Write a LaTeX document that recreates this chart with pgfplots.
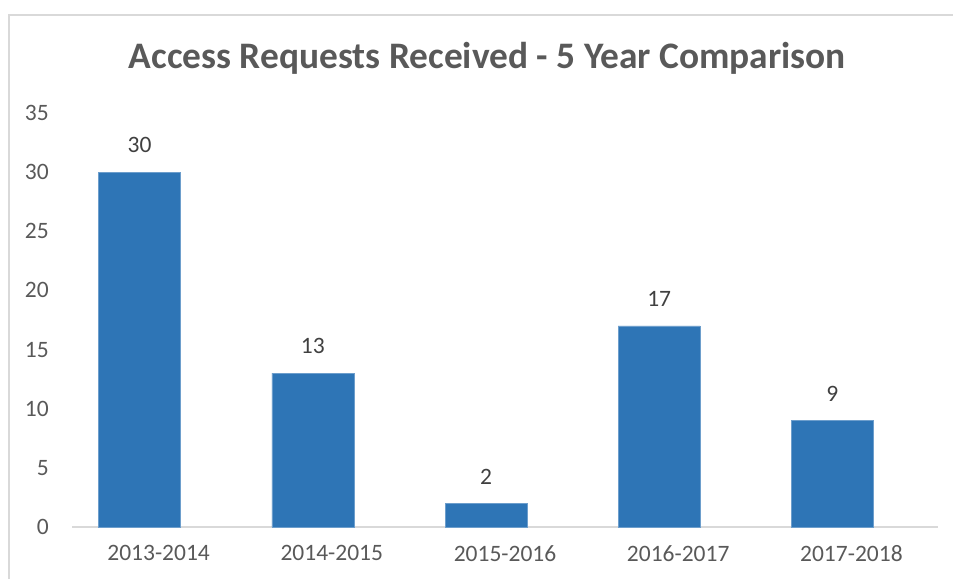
\documentclass[border=0pt]{standalone}
\usepackage{pgfplots}
\pgfplotsset{compat=1.18}
\usepackage{fontspec}
\setmainfont{Carlito}
\definecolor{barblue}{RGB}{46,117,182}
\definecolor{txtgray}{RGB}{89,89,89}
\definecolor{lblgray}{RGB}{64,64,64}
\definecolor{linegray}{RGB}{217,217,217}
\begin{document}
\begin{tikzpicture}
\useasboundingbox (0pt,0pt) rectangle (953pt,-579pt);
\draw[linegray, line width=2pt] (9pt,-579pt) -- (9pt,-14.5pt) -- (953pt,-14.5pt);
\node[anchor=base, font=\fontsize{37.4}{42}\selectfont\bfseries, text=txtgray] at (487.5pt,-68pt) {Access Requests Received - 5 Year Comparison};
\begin{axis}[
  at={(72pt,-527pt)}, anchor=south west,
  scale only axis, width=866pt, height=414pt,
  xmin=-0.5, xmax=4.5, ymin=0, ymax=35,
  ytick={0,5,...,35},
  xtick={0,1,2,3,4},
  xticklabels={2013-2014,2014-2015,2015-2016,2016-2017,2017-2018},
  axis x line*=bottom, axis y line*=left,
  y axis line style={draw=none},
  x axis line style={draw=linegray, line width=2pt, -},
  major tick length=0pt,
  /pgf/number format/assume math mode=true,
  tick label style={font=\fontsize{23.5}{28}\selectfont, text=txtgray},
  yticklabel style={anchor=east, inner sep=0pt, xshift=-23pt},
  xticklabel style={anchor=north, inner sep=0pt, yshift=-18pt},
  ybar, bar width=82pt, bar shift=-19pt,
  nodes near coords,
  every node near coord/.append style={font=\fontsize{23.5}{28}\selectfont, text=lblgray, anchor=south, inner sep=0pt, yshift=19pt},
  clip=false,
]
\addplot[fill=barblue, draw=barblue!70!white, line width=0.6pt] coordinates {(0,30) (1,13) (2,2) (3,17) (4,9)};
\end{axis}
\end{tikzpicture}
\end{document}
